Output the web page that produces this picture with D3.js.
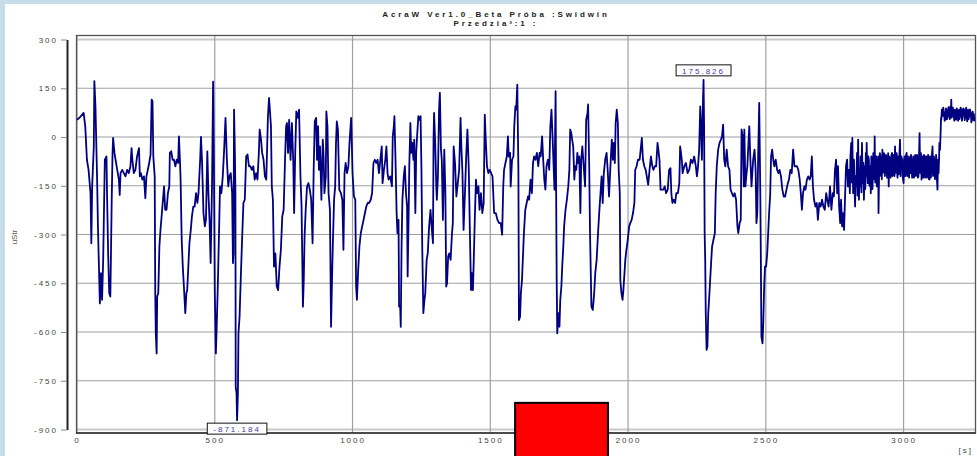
<!DOCTYPE html>
<html>
<head>
  <meta charset="utf-8">
  <script src="https://d3js.org/d3.v7.min.js"></script>
  <style type="text/css">
    body { margin: 0; background: #c6dde9; }
    svg { display: block; }
    text { font-family: "Liberation Sans", Arial, sans-serif; }
  </style>
</head>
<body>
  <script type="text/javascript">
    // chart texts
    var titleLines = ['AcraW Ver1.0_Beta Próba :Swidwin', 'Przedzia³:1 :'];
    var yLabel = 'uStr';
    var xUnit = '[s]';

    // ticks
    var xTicks = [0, 500, 1000, 1500, 2000, 2500, 3000];
    var yTicks = [300, 150, 0, -150, -300, -450, -600, -750, -900];

    // marker box shown over the plot [from s, to s, top uStr]
    var redBox = [1590, 1927, -818];

    // samples [time s, uStr]
    var run1 = [[0,53],[10,60],[24,74],[30,33],[36,-70],[42,-101],[49,-173],[52,-327],[55,-152],[61,-29],[63,172],[67,94],[70,-18],[73,-131],[76,-275],[79,-378],[83,-512],[87,-419],[91,-501],[95,-378],[97,-275],[101,-70],[107,-60],[109,-173],[113,-358],[117,-481],[121,-491],[123,-378],[126,-193],[129,-49],[131,-3],[136,-49],[140,-70],[146,-101],[152,-131],[155,-178],[158,-111],[164,-101],[170,-111],[176,-121],[182,-101],[188,-111],[194,-90],[198,-34],[201,-70],[206,-111],[212,-101],[218,-60],[225,-34],[228,-121],[232,-111],[237,-131],[243,-121],[248,-188],[252,-121],[257,-101],[262,-80],[267,-54],[271,115],[274,110],[277,-60],[282,-121],[284,-481],[286,-604],[289,-666],[291,-491],[295,-481],[299,-337],[303,-286],[309,-224],[316,-152],[320,-224],[325,-224],[330,-173],[335,-152],[337,-49],[342,-44],[347,-70],[352,-70],[357,-90],[362,-70],[367,-80],[370,2],[374,-80],[376,-131],[380,-316],[384,-399],[388,-460],[393,-542],[397,-481],[400,-471],[404,-399],[408,-327],[413,-286],[417,-245],[422,-214],[427,-214],[432,-173],[437,-203],[441,-173],[444,-121],[447,-70],[450,0],[454,-80],[459,-234],[464,-275],[468,-255],[473,-44],[477,-173],[481,-255],[485,-388],[490,-152],[494,170],[497,-90],[500,-471],[504,-666],[507,-584],[511,-460],[516,-275],[519,-152],[524,-173],[529,-121],[534,-39],[539,59],[544,-70],[549,-152],[553,-121],[558,-111],[563,-173],[566,-388],[568,-358],[570,84],[573,-49],[575,-173],[576,-768],[579,-789],[581,-871.184],[584,-789],[586,-604],[590,-553],[595,-419],[600,-296],[604,-203],[609,-193],[614,-60],[619,-54],[624,-90],[629,-90],[635,-101],[640,-90],[645,-131],[650,-111],[655,-131],[660,-49],[663,23],[668,-8],[672,-49],[677,-70],[682,-121],[687,-131],[693,64],[697,120],[700,84],[704,33],[707,-152],[711,-193],[715,-399],[720,-358],[725,-460],[730,-471],[735,-399],[740,-347],[745,-245],[750,-224],[755,-70],[759,33],[762,43],[766,-49],[770,53],[775,-70],[780,43],[785,-80],[788,-234],[792,-49],[796,79],[801,59],[806,84],[811,-121],[815,-214],[820,-522],[823,-440],[826,-306],[830,-224],[835,-152],[840,-142],[845,-162],[850,-193],[855,-327],[859,-101],[863,48],[868,59],[871,-70],[875,33],[878,-101],[882,-29],[887,-193],[892,-8],[895,-60],[898,-173],[903,-121],[905,79],[909,33],[913,-173],[918,-224],[922,-584],[926,-419],[929,-316],[933,-193],[937,-152],[940,-18],[943,48],[947,23],[952,-162],[958,-173],[963,-193],[967,-347],[971,-111],[975,-80],[980,-111],[985,-90],[989,-18],[995,59],[1000,-111],[1005,-183],[1010,-193],[1013,-460],[1016,-501],[1020,-419],[1025,-337],[1030,-296],[1035,-275],[1040,-255],[1045,-234],[1050,-214],[1055,-203],[1060,-203],[1066,-193],[1071,-173],[1076,-80],[1081,-70],[1086,-80],[1091,-70],[1096,-111],[1101,-70],[1106,-29]];

    var run2 = [[1109,-142],[1114,-101],[1119,-70],[1123,-29],[1127,-111],[1131,-131],[1137,-121],[1143,-152],[1146,2],[1150,33],[1152,64],[1156,-70],[1160,-234],[1163,-296],[1167,-255],[1169,-522],[1173,-522],[1175,-584],[1178,-337],[1181,-193],[1186,-121],[1190,-90],[1194,-173],[1198,-214],[1200,-429],[1203,-275],[1206,-90],[1210,43],[1213,-49],[1217,-18],[1221,-70],[1224,-8],[1228,-234],[1231,-49],[1235,12],[1239,64],[1243,53],[1247,64],[1250,-90],[1253,-337],[1257,-542],[1261,-501],[1264,-481],[1269,-378],[1273,-358],[1278,-275],[1283,-224],[1287,-275],[1292,-327],[1294,-8],[1296,74],[1300,-18],[1304,-152],[1306,-193],[1310,-121],[1314,84],[1317,136],[1321,-39],[1324,-70],[1328,-255],[1333,-39],[1337,-173],[1340,-460],[1343,-450],[1347,-368],[1351,-358],[1356,-378],[1361,-296],[1364,-265],[1367,-29],[1372,-80],[1377,-183],[1382,-142],[1387,-101],[1392,59],[1395,-29],[1399,-111],[1403,-286],[1408,-173],[1413,-49],[1417,23],[1422,-101],[1426,-296],[1430,-471],[1433,-419],[1437,-471],[1440,-378],[1444,-245],[1448,-131],[1452,-173],[1457,-152],[1461,-224],[1466,-173],[1471,-234],[1476,-203],[1480,69],[1484,-18],[1488,-90],[1493,-111],[1498,-101],[1503,-111],[1508,-121],[1514,-234],[1520,-234],[1526,-255],[1532,-265],[1538,-265],[1543,-301],[1547,-152],[1550,-101],[1555,-80],[1560,-60],[1564,2],[1567,-60],[1572,-49],[1574,-152],[1579,-70],[1584,-60],[1587,33],[1591,94],[1594,84],[1598,161],[1602,-101],[1604,-563],[1608,-553],[1611,-481],[1615,-440],[1619,-358],[1622,-296],[1627,-224],[1632,-203],[1637,-183],[1641,-193],[1646,-131],[1651,-173],[1655,-80],[1659,-60],[1664,-70],[1669,-49],[1674,-90],[1679,-49],[1683,-60],[1688,2],[1692,-70],[1696,-131],[1700,-162],[1704,-90],[1709,-70],[1714,-101],[1718,33],[1722,84],[1726,2],[1729,-70],[1733,-162],[1737,141],[1739,-173],[1741,-440],[1743,-604],[1747,-542],[1751,-584],[1754,-501],[1758,-460],[1761,-399],[1765,-337],[1768,-275],[1773,-224],[1778,-193],[1783,-152],[1787,-101],[1790,23],[1794,12],[1797,-8],[1801,-29],[1805,-131],[1808,-90],[1812,-101],[1816,-49],[1819,-80],[1823,-60],[1827,-234],[1830,-70],[1834,-29],[1839,-90],[1844,-152],[1848,53],[1853,74],[1855,100],[1859,-90],[1862,-296],[1867,-522],[1872,-532],[1877,-481],[1881,-419],[1886,-378],[1891,-296],[1896,-224],[1900,-173],[1904,-121],[1908,-203],[1912,-111],[1917,-70],[1922,-49],[1926,-101],[1931,-183],[1936,-90],[1941,-8],[1945,-70],[1948,-18],[1952,-80],[1955,43],[1959,84],[1963,43],[1966,-101],[1970,-173],[1972,-440],[1976,-481],[1980,-501],[1983,-471],[1987,-419],[1990,-378],[1994,-347],[1999,-316],[2004,-275],[2008,-265],[2013,-255],[2018,-234],[2023,-203],[2026,-101],[2031,-90],[2036,-70],[2042,-70],[2047,-29],[2050,-3],[2054,-70],[2059,-90],[2064,-101],[2068,-121],[2073,-147],[2078,-101],[2083,-60],[2088,-90],[2092,-101],[2097,-90],[2102,-90],[2107,-18],[2110,-39],[2114,-70],[2118,-162],[2123,-162],[2128,-162],[2133,-152],[2138,-173],[2144,-162],[2149,-101],[2154,-96],[2157,-173],[2161,-203],[2166,-193],[2171,-203],[2175,-173],[2181,-173],[2186,-142],[2189,-29],[2192,-49]];

    var run3 = [[2195,-70],[2198,-111],[2204,-90],[2210,-80],[2216,-111],[2222,-101],[2228,-70],[2234,-80],[2240,-60],[2246,-90],[2250,-121],[2254,-90],[2258,-39],[2262,94],[2264,53],[2268,-70],[2272,115],[2274,175.826],[2276,33],[2278,-296],[2280,-378],[2282,-542],[2285,-655],[2288,-645],[2291,-542],[2294,-501],[2298,-440],[2302,-378],[2305,-337],[2310,-316],[2315,-296],[2318,-173],[2322,-90],[2327,-39],[2332,-18],[2337,-8],[2341,2],[2345,38],[2349,-70],[2353,-90],[2358,-39],[2363,-90],[2368,-101],[2372,-162],[2377,-173],[2382,-183],[2387,-173],[2392,-193],[2397,-275],[2400,-296],[2405,-265],[2409,-255],[2412,23],[2416,2],[2420,-152],[2422,23],[2426,-152],[2429,-121],[2433,-90],[2437,-18],[2440,33],[2444,-70],[2448,-152],[2451,-111],[2454,-70],[2459,-39],[2463,-101],[2466,-265],[2469,-234],[2472,-70],[2476,105],[2480,-173],[2482,-378],[2484,-614],[2488,-635],[2491,-563],[2494,-460],[2497,-399],[2501,-399],[2505,-358],[2508,-306],[2512,-234],[2516,-173],[2519,-60],[2523,-39],[2527,-70],[2531,-90],[2536,-70],[2541,-101],[2546,-111],[2550,-101],[2555,-121],[2560,-162],[2565,-183],[2570,-183],[2575,-162],[2580,-142],[2584,-131],[2589,-101],[2594,-111],[2599,-39],[2604,-90],[2609,-90],[2613,-90],[2618,-101],[2623,-131],[2627,-173],[2631,-224],[2635,-173],[2640,-152],[2644,-162],[2649,-131],[2654,-121],[2659,-131],[2663,-121],[2667,-60],[2671,-152],[2675,-193],[2680,-214],[2685,-203],[2689,-255],[2694,-203],[2699,-214],[2704,-193],[2709,-214],[2714,-224],[2719,-173],[2723,-193],[2728,-214],[2733,-152],[2738,-224],[2743,-173],[2747,-183],[2751,-101],[2755,-70],[2759,-173],[2762,-90],[2766,-214],[2770,-265],[2773,-193],[2777,-275],[2781,-234],[2784,-286],[2788,-173],[2791,-90],[2795,-70],[2798,-152]];

    var run4 = [[2800,-152],[2802,-101],[2805,-173],[2807,-60],[2810,-18],[2812,-140],[2814,-3],[2817,-173],[2819,-100],[2820,-70],[2822,-160],[2824,-214],[2826,-120],[2828,-152],[2830,-90],[2831,-49],[2833,-180],[2835,-8],[2837,-130],[2838,-193],[2840,-110],[2842,-152],[2844,-60],[2845,-90],[2847,-170],[2849,-18],[2851,-120],[2852,-142],[2854,-80],[2856,-193],[2858,-130],[2859,-90],[2861,-160],[2863,-49],[2865,-120],[2866,-18],[2868,-100],[2870,-142],[2872,-60],[2874,-70],[2876,-150],[2877,-131],[2879,-90],[2881,-173],[2883,-60],[2885,-101],[2887,-160],[2888,-131],[2890,-50],[2892,-70],[2894,-130],[2895,2],[2897,-140],[2899,-101],[2901,-60],[2903,-152],[2905,-80],[2906,-121],[2908,-60],[2909,-234],[2911,-120],[2912,-101],[2914,-50],[2916,-60],[2918,-120],[2919,-70],[2921,-130],[2923,-39],[2925,-110],[2927,-90],[2929,-50],[2930,-60],[2932,-120],[2934,-101],[2936,-55],[2938,-70],[2940,-125],[2942,-80],[2944,-50]];

    var run5 = [[2946,-152],[2948,-60],[2951,-70],[2953,-125],[2954,-90],[2956,-55],[2958,-49],[2960,-120],[2962,-90],[2964,-55],[2965,-70],[2967,-120],[2969,-29],[2971,-110],[2973,-80],[2975,-50],[2976,-101],[2978,-125],[2980,-60],[2982,-115],[2983,-111],[2985,-55],[2987,-8],[2989,-120],[2990,-90],[2992,-60],[2995,-70],[2997,-125],[3000,-142],[3002,-70],[3004,-60],[3006,-120],[3007,-90],[3009,-55],[3011,-49],[3013,-120],[3014,-80],[3016,-60],[3018,-101],[3020,-125],[3022,-70],[3024,-60],[3025,-111],[3027,-55],[3029,-80],[3031,-125],[3033,-121],[3035,-60],[3036,-70],[3038,-125],[3040,-90],[3042,-55],[3043,-60],[3045,-120],[3047,-111],[3049,-55],[3050,-70],[3052,-125],[3054,-121],[3056,-60],[3058,12],[3060,-110],[3061,-70],[3063,-50],[3065,-131],[3067,-60],[3069,-60],[3071,-125],[3072,-101],[3074,-55],[3076,-70],[3078,-125],[3079,-121],[3081,-60],[3083,-60],[3085,-125],[3087,-101],[3089,-55],[3090,-70],[3092,-130],[3094,-131],[3096,-60],[3097,-60],[3099,-125],[3101,-101],[3103,-55],[3105,-29],[3107,-120],[3108,-111],[3110,-60],[3112,-80],[3114,-130],[3116,-101],[3118,-55],[3119,-70],[3121,-130],[3123,-162],[3125,-70],[3127,-111],[3129,-60],[3130,-18]];

    var run6 = [[3132,-40],[3134,2],[3136,60],[3137,53],[3139,85],[3142,64],[3144,90],[3147,74],[3149,50],[3152,53],[3154,88],[3156,84],[3158,55],[3161,64],[3163,92],[3166,84],[3168,55],[3170,94],[3172,60],[3173,115],[3175,60],[3177,74],[3179,90],[3182,64],[3184,50],[3186,84],[3188,60],[3191,53],[3193,88],[3196,74],[3198,50],[3201,84],[3203,55],[3205,64],[3207,90],[3210,84],[3212,50],[3215,69],[3217,88],[3220,84],[3222,52],[3225,74],[3227,90],[3229,64],[3231,48],[3234,84],[3236,55],[3239,69],[3241,85],[3244,74],[3246,45],[3249,59],[3251,78],[3253,53],[3255,70],[3257,48]];

    var samples = run1.concat(run2, run3, run4, run5, run6);

    var width = 977,
        height = 456;

    var svg = d3.select('body')
      .append('svg')
        .attr('width', width)
        .attr('height', height);

    // white sheet
    svg.append('rect')
      .attr('x', 5).attr('y', 4)
      .attr('width', width - 5).attr('height', height - 4)
      .style('fill', '#fff');

    var x = d3.scaleLinear().domain([0, 3261]).range([77, 975.5]);
    var y = d3.scaleLinear().domain([-900, 300]).range([429.5, 39.5]);

    //grid
    svg.selectAll('line.hgrid')
      .data(yTicks)
      .enter().append('line')
        .attr('class', 'hgrid')
        .attr('x1', 76).attr('x2', 976)
        .attr('y1', function (d) { return y(d); })
        .attr('y2', function (d) { return y(d); })
        .style('stroke', function (d) { return (d === 300 || d === -900) ? '#c8c8c8' : '#a0a0a0'; })
        .style('stroke-width', function (d) { return (d === 300 || d === -900) ? 2 : 1.2; });

    svg.selectAll('line.vgrid')
      .data(xTicks)
      .enter().append('line')
        .attr('class', 'vgrid')
        .attr('y1', 35).attr('y2', 433)
        .attr('x1', function (d) { return x(d); })
        .attr('x2', function (d) { return x(d); })
        .style('stroke', '#a0a0a0')
        .style('stroke-width', 1.2);

    //frame
    svg.append('rect')
      .attr('x', 76.5).attr('y', 35.5)
      .attr('width', 899).attr('height', 397.5)
      .style('fill', 'none')
      .style('stroke', '#555')
      .style('stroke-width', 1.3);
    svg.append('line')
      .attr('x1', 76).attr('x2', 976)
      .attr('y1', 433).attr('y2', 433)
      .style('stroke', '#333')
      .style('stroke-width', 1.5);

    // y axis off to the side
    var yAxis = d3.axisLeft(y)
      .tickValues(yTicks)
      .tickSizeInner(6)
      .tickSizeOuter(0)
      .tickPadding(3)
      .tickFormat(function (d) { return String(d); });

    var gy = svg.append('g')
      .attr('transform', 'translate(67,0)')
      .call(yAxis);
    gy.select('.domain').style('stroke', '#222').style('stroke-width', 2);
    gy.selectAll('.tick line').style('stroke', '#888');
    gy.selectAll('text')
      .style('font-size', '8px')
      .style('letter-spacing', '2px')
      .style('fill', '#444');

    // x axis labels only
    var xAxis = d3.axisBottom(x)
      .tickValues(xTicks)
      .tickSize(0)
      .tickPadding(4)
      .tickFormat(function (d) { return String(d); });

    var gx = svg.append('g')
      .attr('transform', 'translate(0,433)')
      .call(xAxis);
    gx.select('.domain').remove();
    gx.selectAll('text')
      .style('font-size', '8px')
      .style('letter-spacing', '2px')
      .style('fill', '#444');

    svg.append('text')
      .attr('x', 973).attr('y', 453)
      .style('text-anchor', 'end')
      .style('font-size', '8px')
      .style('letter-spacing', '2px')
      .style('fill', '#444')
      .text(xUnit);

    svg.append('text')
      .attr('transform', 'translate(17,237) rotate(-90)')
      .style('text-anchor', 'middle')
      .style('font-size', '8px')
      .style('fill', '#555')
      .text(yLabel);

    // title
    svg.selectAll('text.title')
      .data(titleLines)
      .enter().append('text')
        .attr('class', 'title')
        .attr('x', 496)
        .attr('y', function (d, i) { return 17 + i * 9; })
        .style('text-anchor', 'middle')
        .style('font-size', '8px')
        .style('font-weight', 'bold')
        .style('letter-spacing', '2.9px')
        .style('fill', '#222')
        .text(function (d) { return d; });

    // signal
    var line = d3.line()
      .x(function (d) { return x(d[0]); })
      .y(function (d) { return y(d[1]); });

    svg.append('path')
      .datum(samples)
      .attr('d', line)
      .style('fill', 'none')
      .style('stroke', '#000080')
      .style('stroke-width', 1.8)
      .style('stroke-linejoin', 'round');

    // min / max labels
    var minS = samples.reduce(function (a, b) { return b[1] < a[1] ? b : a; });
    var maxS = samples.reduce(function (a, b) { return b[1] > a[1] ? b : a; });

    function tag(s, above) {
      var g = svg.append('g');
      var box = g.append('rect');
      var txt = g.append('text')
        .attr('x', x(s[0]))
        .style('text-anchor', 'middle')
        .style('font-size', '8px')
        .style('letter-spacing', '2px')
        .style('fill', '#3c3ca8')
        .text(d3.format('.3f')(s[1]).replace('−', '-'));
      var w = txt.node().getComputedTextLength() + 12;
      var top = above ? y(s[1]) - 15 : y(s[1]) + 3;
      txt.attr('y', top + 9);
      box.attr('x', x(s[0]) - w / 2).attr('y', top)
        .attr('width', w).attr('height', 11)
        .style('fill', '#fff')
        .style('stroke', '#111')
        .style('stroke-width', 1);
    }
    tag(minS, false);
    tag(maxS, true);

    // red marker
    svg.append('rect')
      .attr('x', x(redBox[0]))
      .attr('y', y(redBox[2]))
      .attr('width', x(redBox[1]) - x(redBox[0]))
      .attr('height', 60)
      .style('fill', '#ff0000')
      .style('stroke', '#000')
      .style('stroke-width', 2);
  </script>
</body>
</html>
